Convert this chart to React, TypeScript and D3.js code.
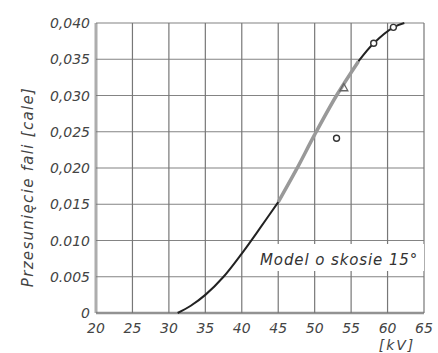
import React from "react";
import * as d3 from "d3";

const xTicks = [20, 25, 30, 35, 40, 45, 50, 55, 60, 65];
const yTicks = [0, 0.005, 0.01, 0.015, 0.02, 0.025, 0.03, 0.035, 0.04];
const yTickLabels = ["0", "0.005", "0.010", "0,015", "0,020", "0,025", "0,030", "0,035", "0,040"];
const curveX = [31.2, 33, 35, 37.5, 40, 42.5, 45, 47.5, 50, 53, 56, 58.1, 60.8, 62.3];
const curveY = [0, 0.001, 0.0025, 0.005, 0.0082, 0.0117, 0.0153, 0.0198, 0.0246, 0.03, 0.0347, 0.0372, 0.0394, 0.04];
const circleX = [53.0, 58.1, 60.8];
const circleY = [0.0241, 0.0372, 0.0394];
const triangleX = [54.0];
const triangleY = [0.0311];
const xTitle = "[kV]";
const yTitle = "Przesunięcie  fali  [cale]";
const legendText = "Model o skosie 15°";

export default function App() {
  const W = 438, H = 353;
  const x = d3.scaleLinear().domain([20, 65]).range([96, 424]);
  const y = d3.scaleLinear().domain([0, 0.04]).range([313, 23]);
  const pts: [number, number][] = curveX.map((v, i) => [v, curveY[i]]);
  const line = d3.line<[number, number]>().x(d => x(d[0])).y(d => y(d[1])).curve(d3.curveCatmullRom.alpha(0.5));
  const lower = pts.filter(p => p[0] <= 45);
  const mid = pts.filter(p => p[0] >= 45 && p[0] <= 56);
  const upper = pts.filter(p => p[0] >= 56);
  const font = "'DejaVu Sans', sans-serif";
  const tri = (cx: number, cy: number) => {
    const r = 4;
    return `M${cx},${cy - r}L${cx + r},${cy + r * 0.8}L${cx - r},${cy + r * 0.8}Z`;
  };
  return (
    <svg width={W} height={H} style={{ position: "absolute", left: 0, top: 0, background: "#fff" }}>
      {xTicks.map(t => (
        <line key={"gx" + t} x1={x(t)} x2={x(t)} y1={y(0.04)} y2={y(0)} stroke="#777" strokeWidth={t === 20 ? 3 : 1.2} opacity={t === 20 ? 0.6 : 1} />
      ))}
      {yTicks.map(t => (
        <line key={"gy" + t} x1={x(20)} x2={x(65)} y1={y(t)} y2={y(t)} stroke="#777" strokeWidth={t === 0 ? 2.5 : 1.2} opacity={t === 0 ? 0.8 : 0.9} />
      ))}
      <rect x={250} y={244} width={174} height={27} fill="#fff" />
      <text x={260} y={265} fontFamily={font} fontStyle="italic" fontSize={15} fill="#333" letterSpacing={0.9}>{legendText}</text>
      <path d={line(mid) || ""} fill="none" stroke="#999" strokeWidth={3.5} />
      <path d={line(lower) || ""} fill="none" stroke="#222" strokeWidth={2} />
      <path d={line(upper) || ""} fill="none" stroke="#222" strokeWidth={2} />
      {circleX.map((v, i) => (
        <circle key={"c" + i} cx={x(v)} cy={y(circleY[i])} r={3} fill="#fff" stroke="#333" strokeWidth={1.4} />
      ))}
      {triangleX.map((v, i) => (
        <path key={"t" + i} d={tri(x(v), y(triangleY[i]))} fill="none" stroke="#666" strokeWidth={1.3} />
      ))}
      {yTicks.map((t, i) => (
        <text key={"yl" + t} x={90} y={y(t) + 5} textAnchor="end" fontFamily={font} fontStyle="italic" fontSize={14} fill="#444">{yTickLabels[i]}</text>
      ))}
      {xTicks.map(t => (
        <text key={"xl" + t} x={x(t)} y={333} textAnchor="middle" fontFamily={font} fontStyle="italic" fontSize={14} fill="#444">{t}</text>
      ))}
      <text x={397} y={350} textAnchor="middle" fontFamily={font} fontStyle="italic" fontSize={14} fill="#444" letterSpacing={2}>{xTitle}</text>
      <text transform="translate(33,187) rotate(-90)" textAnchor="middle" fontFamily={font} fontStyle="italic" fontSize={15} fill="#444" letterSpacing={1.3}>{yTitle}</text>
    </svg>
  );
}
